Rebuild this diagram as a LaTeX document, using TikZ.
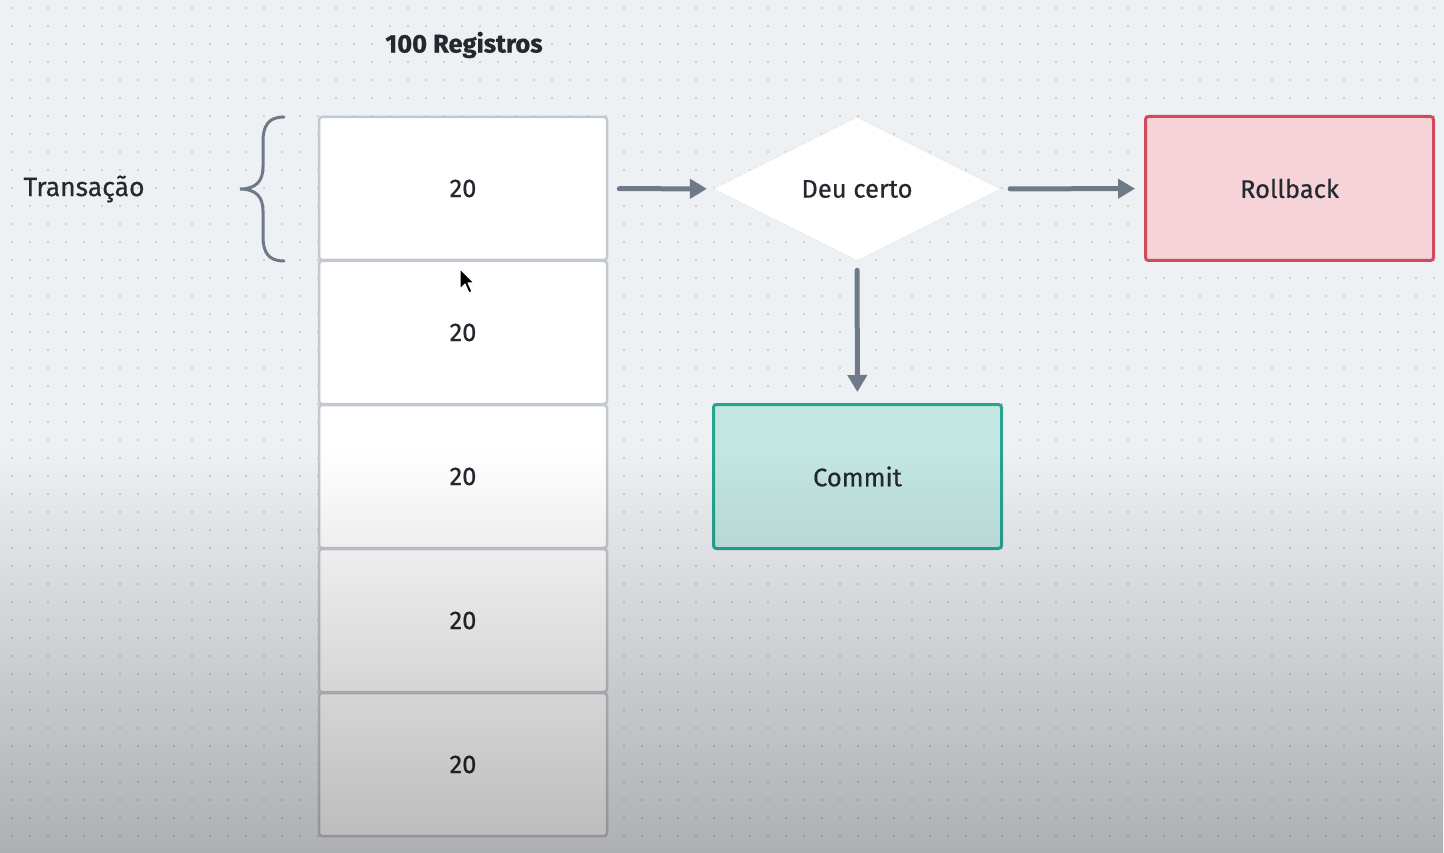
\documentclass[tikz,border=0pt]{standalone}
\usepackage{fontspec}
\setmainfont{Fira Sans}[FakeBold=0.5]
\newfontfamily\titlefont{Fira Sans Bold}[FakeBold=0.8]
\usetikzlibrary{shapes.geometric,arrows.meta,fadings}
\definecolor{bgc}{HTML}{EEF1F4}
\definecolor{dotc}{HTML}{C3C8CE}
\definecolor{boxline}{HTML}{C3C9D1}
\definecolor{txt}{HTML}{23292F}
\definecolor{arr}{HTML}{6E7A87}
\definecolor{rbfill}{HTML}{F6D3D8}
\definecolor{rbline}{HTML}{D14B5C}
\definecolor{cmfill}{HTML}{C4E7E3}
\definecolor{cmline}{HTML}{29A491}
\tikzfading[name=fadeV, top color=transparent!100, bottom color=transparent!0]
\begin{document}
\begin{tikzpicture}[x=1pt,y=-1pt,
  lbl/.style={text=txt, font=\fontsize{25.5}{30}\selectfont},
  regbox/.style={lbl, draw=boxline, fill=white, line width=2.5pt, rounded corners=3pt, minimum width=288pt, minimum height=143pt, inner sep=0pt},
  flowbox/.style={lbl, line width=3pt, rounded corners=3pt, minimum width=288pt, minimum height=144pt, inner sep=0pt},
  conn/.style={draw=arr, line width=5pt, line cap=round, -{Triangle[length=17pt,width=19pt]}, shorten <=9pt, shorten >=7pt}
]
\useasboundingbox (0,0) rectangle (1444,853);
\fill[bgc] (0,0) rectangle (1444,853);
\foreach \r in {0,...,47}
  \draw[dotc, line width=2.2pt, line cap=round, dash pattern=on 0pt off 18pt] (12,8+18*\r) -- (1444,8+18*\r);

\node[lbl, font=\fontsize{25.5}{30}\titlefont] (title) at (464,45) {100 Registros};
\node[lbl, anchor=west, font=\fontsize{26.5}{30}\selectfont] (trans) at (20,189) {Transação};

\node[regbox] (b1) at (463,188.5) {20};
\node[regbox] (b2) at (463,332.5) {20};
\node[regbox] (b3) at (463,476.5) {20};
\node[regbox] (b4) at (463,620.5) {20};
\node[regbox] (b5) at (463,764.5) {20};

\coordinate (brtop) at (284,117);
\coordinate (brtip) at (240,189);
\coordinate (brbot) at (284,261);
\draw[arr, line width=3pt, line cap=round]
  (brtop) .. controls (268,117) and (263,126) .. (263,142) -- (263,167)
  .. controls (263,181) and (256,189) .. (brtip)
  .. controls (256,189) and (263,197) .. (263,211) -- (263,236)
  .. controls (263,252) and (268,261) .. (brbot);

\node[lbl, diamond, aspect=2, fill=white, draw=black!8, line width=0.8pt, minimum width=288pt, minimum height=144pt, inner sep=0pt] (dec) at (857,189) {Deu certo};
\node[flowbox, draw=rbline, fill=rbfill] (rb) at (1289.5,188.5) {Rollback};
\node[flowbox, draw=cmline, fill=cmfill] (cm) at (857.5,476.5) {Commit};

\draw[conn, shorten <=11pt, shorten >=6pt] (b1) -- (dec);
\draw[conn, shorten <=9pt, shorten >=9pt] (dec) -- (rb);
\draw[conn, shorten <=9pt, shorten >=11pt] (dec) -- (cm);

\coordinate (cur) at (460,269);
\draw[white, line width=1pt, fill=black, line join=round]
  (cur) -- (460,289) -- (465,284) -- (469,293) -- (472,291.5) -- (468,283) -- (474,283) -- cycle;

\fill[black, opacity=0.27, path fading=fadeV] (0,450) rectangle (1444,853);
\end{tikzpicture}
\end{document}
